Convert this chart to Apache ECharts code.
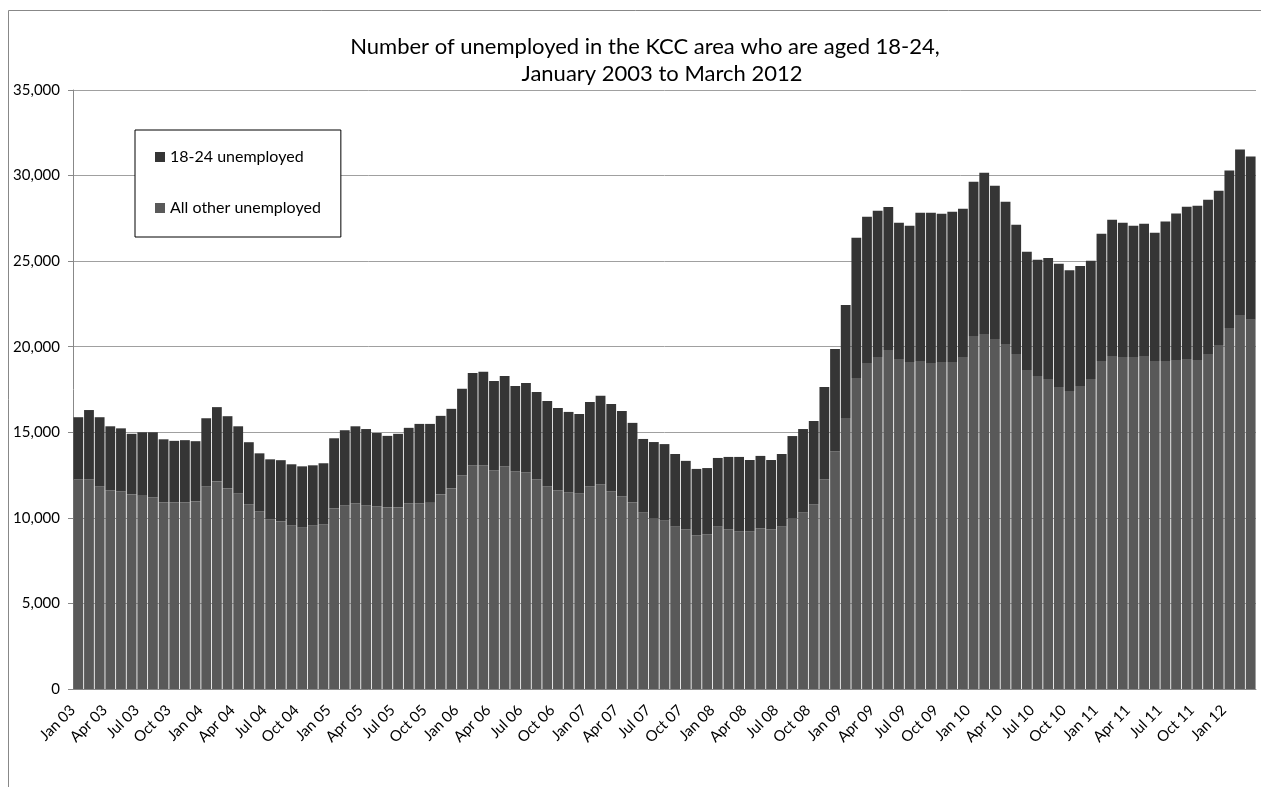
<!DOCTYPE html>
<html>
<head>
<meta charset="utf-8">
<title>Unemployed aged 18-24, KCC area</title>
<script src="https://cdn.jsdelivr.net/npm/echarts@6.0.0/dist/echarts.min.js"></script>
<style>
    html, body { margin: 0; padding: 0; background: #fff; }
    #chart { width: 1261px; height: 787px; }
</style>
</head>
<body>
<div id="chart"></div>
<script>
// monthly labels, Jan 03 .. Mar 12
const monthNames = ['Jan', 'Feb', 'Mar', 'Apr', 'May', 'Jun', 'Jul', 'Aug', 'Sep', 'Oct', 'Nov', 'Dec']
const months = []
for (let y = 2003; y <= 2012; y++) {
    for (let m = 0; m < 12; m++) {
        if (y === 2012 && m > 2) break
        months.push(monthNames[m] + ' ' + String(y).slice(2))
    }
}

// 18-24 unemployed (top part of each bar)
const young = [
    3640, 4060, 4050, 3750, 3690, 3540, 3710, 3810, 3690, 3600, 3640, 3520,
    3990, 4340, 4220, 3930, 3640, 3400, 3520, 3580, 3580, 3580, 3520, 3580,
    4100, 4400, 4510, 4470, 4280, 4180, 4300, 4420, 4650, 4570, 4590, 4650,
    5060, 5410, 5470, 5230, 5290, 5000, 5230, 5120, 5000, 4820, 4710, 4650,
    4940, 5180, 5120, 5000, 4650, 4300, 4470, 4470, 4240, 4010, 3890, 3890,
    4010, 4240, 4360, 4180, 4240, 4060, 4240, 4820, 4880, 4880, 5410, 5980,
    6610, 8190, 8540, 8540, 8360, 7960, 7960, 8660, 8780, 8660, 8780, 8660,
    9010, 9420, 8960, 8310, 7550, 6910, 6790, 7080, 7200, 7060, 7020, 6910,
    7430, 7960, 7840, 7670, 7730, 7490, 8140, 8550, 8900, 9010, 9010, 9010,
    9190, 9660, 9540
]

// all other unemployed (bottom part)
const other = [
    12240, 12240, 11830, 11600, 11540, 11370, 11290, 11190, 10900, 10900, 10900, 10960,
    11830, 12130, 11720, 11420, 10780, 10370, 9900, 9790, 9550, 9430, 9550, 9610,
    10550, 10720, 10840, 10720, 10680, 10610, 10610, 10840, 10840, 10920, 11370, 11720,
    12480, 13060, 13060, 12770, 13000, 12710, 12650, 12240, 11830, 11600, 11480, 11420,
    11830, 11950, 11540, 11250, 10900, 10310, 9960, 9840, 9490, 9320, 8970, 9020,
    9490, 9320, 9200, 9200, 9380, 9320, 9490, 9960, 10310, 10780, 12240, 13880,
    15830, 18170, 19050, 19400, 19810, 19280, 19110, 19170, 19050, 19110, 19110, 19400,
    20630, 20750, 20450, 20160, 19580, 18640, 18290, 18110, 17650, 17410, 17700, 18110,
    19170, 19460, 19400, 19400, 19460, 19170, 19170, 19230, 19280, 19230, 19580, 20100,
    21100, 21860, 21570
]

const titleLines = [
    'Number of unemployed in the KCC area who are aged 18-24,',
    'January 2003 to March 2012'
]

const font = 'Lato, "Open Sans", sans-serif'

const myChart = echarts.init(document.getElementById('chart'))
myChart.setOption({
    animation: false,
    backgroundColor: '#fff',
    title: [{
        text: titleLines[0],
        left: 640,
        top: 31,
        textAlign: 'center',
        textStyle: { fontFamily: font, fontSize: 22, fontWeight: 'normal', color: '#000' }
    }, {
        text: titleLines[1],
        left: 657,
        top: 58,
        textAlign: 'center',
        textStyle: { fontFamily: font, fontSize: 22, fontWeight: 'normal', color: '#000' }
    }],
    // outer chart frame
    graphic: [{
        type: 'rect',
        z: -10,
        shape: { x: 8.5, y: 10.5, width: 1400, height: 900 },
        style: { fill: 'none', stroke: '#888', lineWidth: 1 }
    }],
    legend: {
        data: ['18-24 unemployed', 'All other unemployed'],
        orient: 'vertical',
        left: 135,
        top: 130,
        icon: 'rect',
        itemWidth: 10,
        itemHeight: 10,
        itemGap: 35,
        padding: [19, 20, 21, 20],
        backgroundColor: '#fff',
        borderColor: '#000',
        borderWidth: 1,
        textStyle: { fontFamily: font, fontSize: 16, color: '#000' }
    },
    grid: {
        left: 73,
        right: 5,
        top: 90,
        bottom: 98,
        containLabel: false
    },
    xAxis: {
        type: 'category',
        data: months,
        axisLine: { lineStyle: { color: '#888' } },
        axisTick: { interval: 2, length: 5, lineStyle: { color: '#888' } },
        axisLabel: {
            interval: 2,
            rotate: 45,
            margin: 13,
            padding: [0, 8, 0, 0],
            fontFamily: font,
            fontSize: 15,
            color: '#000'
        }
    },
    yAxis: {
        type: 'value',
        min: 0,
        max: 35000,
        interval: 5000,
        axisLine: { show: true, lineStyle: { color: '#888' } },
        axisTick: { show: true, length: 5, lineStyle: { color: '#888' } },
        axisLabel: {
            margin: 13,
            fontFamily: font,
            fontSize: 15,
            color: '#000',
            formatter: v => v.toLocaleString('en-US')
        },
        splitLine: { lineStyle: { color: '#a0a0a0' } }
    },
    series: [{
        name: 'All other unemployed',
        type: 'bar',
        stack: 'total',
        data: other,
        barCategoryGap: '8%',
        itemStyle: { color: '#595959' }
    }, {
        name: '18-24 unemployed',
        type: 'bar',
        stack: 'total',
        data: young,
        barCategoryGap: '8%',
        itemStyle: { color: '#353535' }
    }]
})
</script>
</body>
</html>
